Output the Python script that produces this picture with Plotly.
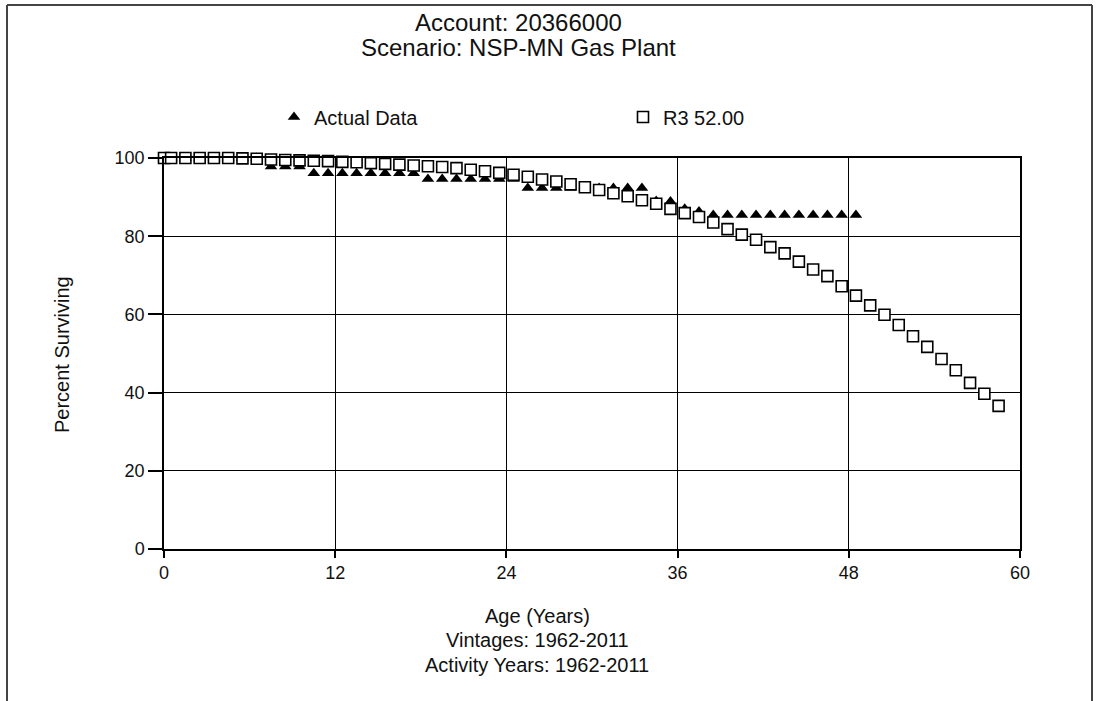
import plotly.graph_objects as go

# ---- data ----
actual_age = [0, 0.5, 1.5, 2.5, 3.5, 4.5, 5.5, 6.5, 7.5, 8.5, 9.5, 10.5, 11.5, 12.5, 13.5,
              14.5, 15.5, 16.5, 17.5, 18.5, 19.5, 20.5, 21.5, 22.5, 23.5, 24.5, 25.5, 26.5,
              27.5, 28.5, 29.5, 30.5, 31.5, 32.5, 33.5, 34.5, 35.5, 36.5, 37.5, 38.5, 39.5,
              40.5, 41.5, 42.5, 43.5, 44.5, 45.5, 46.5, 47.5, 48.5]
actual_pct = [100, 100, 100, 100, 100, 100, 100, 100, 97.8, 97.8, 97.8, 96.1, 96.1, 96.1, 96.1,
              96.1, 96.1, 96.1, 96.1, 94.6, 94.6, 94.6, 94.6, 94.6, 94.6, 94.6, 92.3, 92.3,
              92.3, 92.3, 92.3, 92.3, 92.3, 92.3, 92.3, 89.0, 88.9, 87.0, 86.3, 85.4, 85.4,
              85.4, 85.4, 85.4, 85.4, 85.4, 85.4, 85.4, 85.4, 85.4]

r3_age = [0, 0.5, 1.5, 2.5, 3.5, 4.5, 5.5, 6.5, 7.5, 8.5, 9.5, 10.5, 11.5, 12.5, 13.5, 14.5,
          15.5, 16.5, 17.5, 18.5, 19.5, 20.5, 21.5, 22.5, 23.5, 24.5, 25.5, 26.5, 27.5, 28.5,
          29.5, 30.5, 31.5, 32.5, 33.5, 34.5, 35.5, 36.5, 37.5, 38.5, 39.5, 40.5, 41.5, 42.5,
          43.5, 44.5, 45.5, 46.5, 47.5, 48.5, 49.5, 50.5, 51.5, 52.5, 53.5, 54.5, 55.5, 56.5,
          57.5, 58.5]
r3_pct = [100, 100, 100, 100, 100, 100, 99.9, 99.8, 99.6, 99.5, 99.4, 99.3, 99.2, 99.0, 98.9,
          98.7, 98.5, 98.3, 98.1, 97.9, 97.7, 97.4, 97.0, 96.6, 96.2, 95.7, 95.2, 94.5, 94.0,
          93.3, 92.5, 91.8, 91.0, 90.2, 89.2, 88.3, 87.0, 85.9, 84.9, 83.5, 81.8, 80.4, 79.1,
          77.2, 75.6, 73.5, 71.5, 69.8, 67.2, 64.8, 62.3, 59.9, 57.3, 54.4, 51.7, 48.6, 45.7,
          42.5, 39.7, 36.6]

x_ticks = [0, 12, 24, 36, 48, 60]
y_ticks = [0, 20, 40, 60, 80, 100]

title_lines = ["Account: 20366000", "Scenario: NSP-MN Gas Plant"]
xtitle_lines = ["Age (Years)", "Vintages: 1962-2011", "Activity Years: 1962-2011"]
ytitle = "Percent Surviving"
series_names = ["Actual Data", "R3 52.00"]

# ---- layout geometry ----
W, H = 1101, 701
L, R, T, B = 164, 1020, 158, 549
FONT = "Liberation Sans, Arial, sans-serif"


def px(x):
    return (x - L) / (R - L)


def py(y):
    return (B - y) / (B - T)


fig = go.Figure()
fig.add_trace(go.Scatter(
    x=actual_age, y=actual_pct, mode="markers", name=series_names[0],
    marker=dict(symbol="triangle-up", size=11, color="black", line=dict(width=0)),
    cliponaxis=False))
fig.add_trace(go.Scatter(
    x=r3_age, y=r3_pct, mode="markers", name=series_names[1],
    marker=dict(symbol="square", size=11, color="white", line=dict(width=1.6, color="black")),
    cliponaxis=False))

annotations = []
for txt, yy in zip(title_lines, [22, 47]):
    annotations.append(dict(text=txt, x=px(518), y=py(yy), xref="paper", yref="paper",
                            showarrow=False, xanchor="center", yanchor="middle",
                            font=dict(family=FONT, size=24, color="#111")))
for txt, yy in zip(xtitle_lines, [616, 640, 665]):
    annotations.append(dict(text=txt, x=px(537), y=py(yy), xref="paper", yref="paper",
                            showarrow=False, xanchor="center", yanchor="middle",
                            font=dict(family=FONT, size=20, color="#111")))
annotations.append(dict(text=ytitle, x=px(62), y=py(355), xref="paper", yref="paper",
                        showarrow=False, xanchor="center", yanchor="middle", textangle=-90,
                        font=dict(family=FONT, size=20, color="#111")))

frame = "#444"
shapes = [
    dict(type="line", xref="paper", yref="paper", x0=px(7), x1=px(7), y0=py(5), y1=py(701),
         line=dict(color=frame, width=2)),
    dict(type="line", xref="paper", yref="paper", x0=px(7), x1=px(1092), y0=py(5), y1=py(5),
         line=dict(color=frame, width=2)),
    dict(type="line", xref="paper", yref="paper", x0=px(1092), x1=px(1092), y0=py(5), y1=py(701),
         line=dict(color=frame, width=2)),
]

axis_common = dict(showline=True, linecolor="black", linewidth=1.5, mirror=True,
                   showgrid=True, gridcolor="black", gridwidth=1.4, zeroline=False,
                   ticks="outside", tickcolor="black", tickwidth=1.5,
                   tickfont=dict(family=FONT, size=18, color="#111"))

fig.update_layout(
    width=W, height=H,
    margin=dict(l=L, r=W - R, t=T, b=H - B, pad=0),
    paper_bgcolor="white", plot_bgcolor="white",
    showlegend=True,
    legend=dict(orientation="h", x=px(274), y=py(117), xanchor="left", yanchor="middle",
                xref="paper", yref="paper",
                entrywidth=304, entrywidthmode="pixels",
                font=dict(family=FONT, size=20, color="#111"),
                bgcolor="rgba(0,0,0,0)"),
    xaxis=dict(range=[0, 60], tickvals=x_ticks, ticklen=7, **axis_common),
    yaxis=dict(range=[0, 100], tickvals=y_ticks, ticklen=14, **axis_common),
    annotations=annotations,
    shapes=shapes,
)

fig.write_html("out.html")
